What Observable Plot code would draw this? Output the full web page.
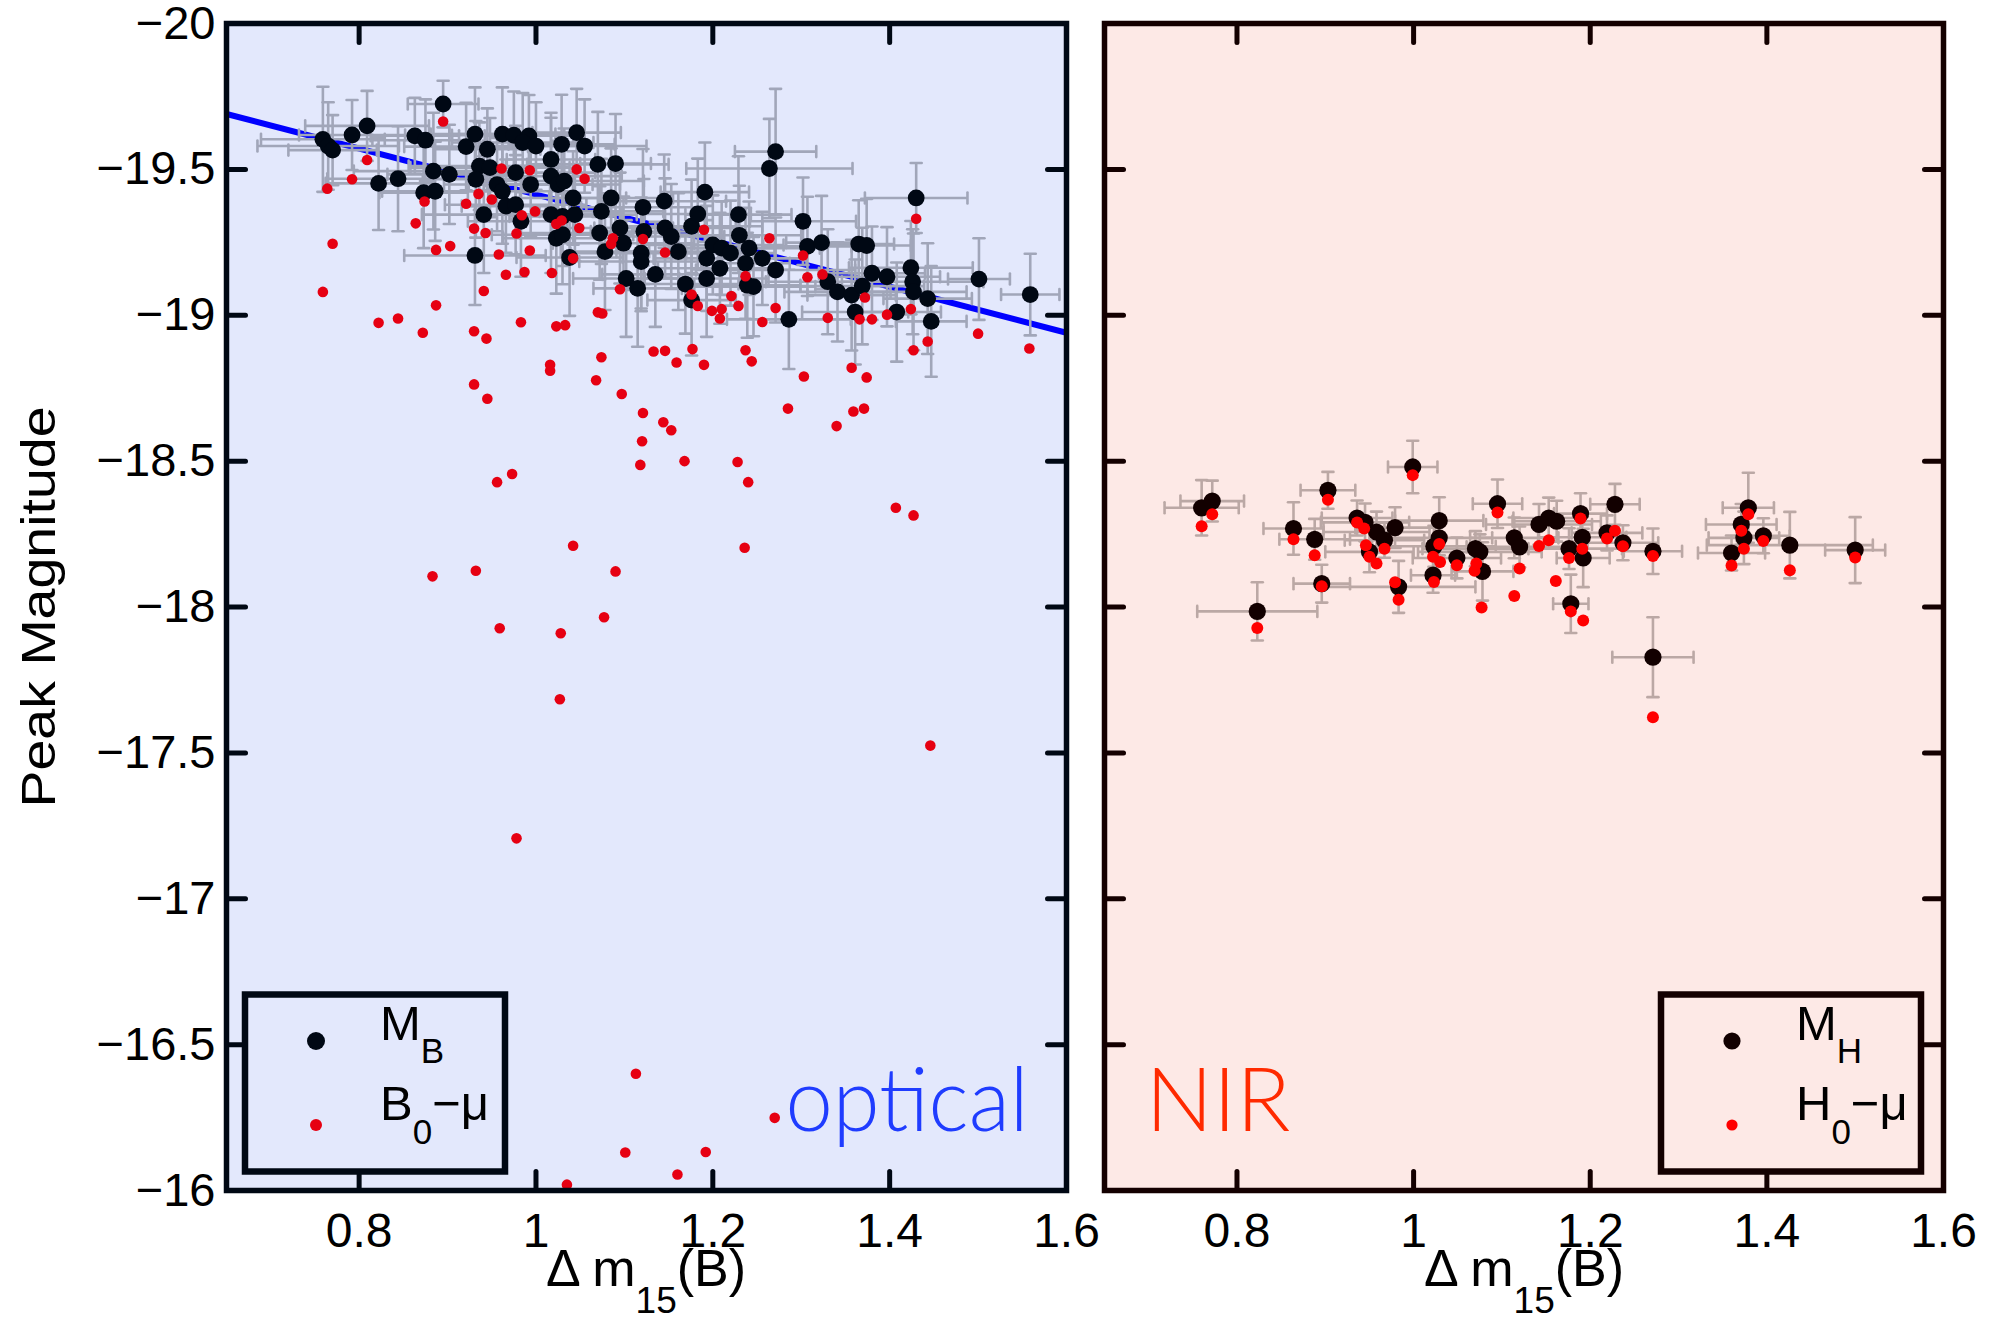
<!DOCTYPE html>
<html><head><meta charset="utf-8">
<script src="https://cdn.jsdelivr.net/npm/d3@7"></script>
<script src="https://cdn.jsdelivr.net/npm/@observablehq/plot@0.6"></script>
<style>
body{margin:0;background:#fff;}
#wrap{position:relative;width:1995px;height:1323px;overflow:hidden;background:#fff;}
.pane{position:absolute;top:0;}
.pane svg{overflow:visible;display:block;}
</style></head><body><div id="wrap"></div>
<script>
// ---------------- data ----------------
const xTicks = [0.8, 1, 1.2, 1.4, 1.6];
const yTicks = [-20, -19.5, -19, -18.5, -18, -17.5, -17, -16.5, -16];
const xDomain = [0.65, 1.6];
const yDomain = [-16, -20];
const fitX = [0.65, 1.6];
const fitY = [-19.69, -18.94];

// optical: [dm15, M_B, xerr, yerr]
const opticalMB = [
[0.759,-19.603,.07,.18],[0.765,-19.580,.08,.15],[0.770,-19.566,.05,.12],[0.792,-19.618,.06,.12],[0.809,-19.649,.07,.12],
[0.822,-19.452,.06,.16],[0.844,-19.468,.08,.18],[0.863,-19.615,.05,.13],[0.875,-19.600,.06,.14],[0.895,-19.724,.04,.08],
[0.921,-19.578,.07,.15],[0.931,-19.621,.05,.16],[0.945,-19.569,.06,.14],[0.884,-19.494,.09,.20],[0.902,-19.483,.07,.17],
[0.873,-19.420,.05,.19],[0.886,-19.425,.06,.17],[0.936,-19.511,.08,.15],[0.932,-19.466,.06,.20],[0.948,-19.506,.09,.17],
[0.956,-19.448,.06,.16],[0.962,-19.425,.08,.18],[0.941,-19.345,.07,.20],[0.966,-19.374,.05,.16],[0.977,-19.379,.08,.17],
[0.983,-19.322,.06,.19],[0.962,-19.621,.06,.16],[0.975,-19.617,.07,.15],[0.992,-19.615,.05,.14],[0.985,-19.592,.08,.17],
[1.000,-19.580,.06,.15],[0.977,-19.489,.09,.16],[0.994,-19.448,.07,.18],[1.017,-19.534,.05,.16],[1.017,-19.477,.08,.20],
[1.029,-19.586,.06,.17],[1.025,-19.448,.07,.15],[1.032,-19.460,.09,.18],[1.042,-19.402,.06,.16],[1.046,-19.626,.05,.15],
[1.055,-19.580,.07,.16],[1.070,-19.517,.08,.18],[1.090,-19.520,.04,.17],[1.017,-19.345,.08,.20],[1.030,-19.339,.06,.17],
[1.044,-19.345,.07,.16],[1.023,-19.264,.06,.19],[1.030,-19.276,.08,.17],[1.038,-19.198,.06,.20],[1.074,-19.356,.07,.18],
[1.072,-19.282,.09,.16],[1.078,-19.218,.05,.20],[1.085,-19.402,.07,.17],[1.095,-19.299,.06,.19],[1.099,-19.247,.08,.16],
[1.102,-19.126,.06,.20],[0.931,-19.205,.08,.17],[1.121,-19.370,.07,.20],[1.122,-19.287,.06,.18],[1.119,-19.213,.08,.19],
[1.119,-19.184,.07,.17],[1.115,-19.092,.05,.20],[1.135,-19.140,.06,.18],[1.145,-19.391,.07,.16],[1.146,-19.299,.08,.17],
[1.153,-19.270,.06,.18],[1.161,-19.218,.07,.20],[1.169,-19.107,.06,.17],[1.176,-19.052,.05,.19],[1.176,-19.305,.08,.16],
[1.183,-19.347,.06,.19],[1.191,-19.422,.05,.17],[1.193,-19.126,.07,.20],[1.193,-19.195,.06,.18],[1.200,-19.241,.08,.17],
[1.208,-19.161,.07,.19],[1.210,-19.230,.06,.16],[1.220,-19.213,.05,.18],[1.229,-19.345,.06,.20],[1.230,-19.274,.07,.17],
[1.237,-19.178,.05,.19],[1.241,-19.230,.08,.16],[1.239,-19.103,.06,.18],[1.246,-19.098,.07,.17],[1.256,-19.195,.05,.16],
[1.271,-19.155,.09,.18],[1.286,-18.986,.07,.17],[1.302,-19.322,.06,.15],[1.307,-19.236,.05,.17],[1.323,-19.249,.04,.16],
[1.330,-19.115,.07,.18],[1.341,-19.080,.06,.17],[1.357,-19.069,.05,.19],[1.361,-19.011,.06,.18],[1.365,-19.244,.04,.15],
[1.374,-19.239,.05,.16],[1.369,-19.100,.07,.20],[1.380,-19.144,.06,.16],[1.397,-19.132,.06,.17],[1.408,-19.011,.05,.17],
[1.424,-19.163,.07,.16],[1.426,-19.115,.08,.18],[1.427,-19.080,.06,.20],[1.443,-19.057,.05,.19],[1.447,-18.979,.04,.19],
[1.430,-19.402,.058,.12],[1.501,-19.124,.035,.14],[1.559,-19.071,.033,.14],[1.271,-19.561,.046,.215],[1.264,-19.503,.094,.17]
];
// optical: [dm15, B0 - mu]
const opticalB0mu = [
[0.895,-19.664],[0.809,-19.532],[0.792,-19.466],[0.764,-19.434],[0.770,-19.245],[0.759,-19.080],[0.874,-19.390],[0.864,-19.315],
[0.921,-19.382],[0.935,-19.416],[0.950,-19.397],[0.961,-19.503],[0.993,-19.497],[0.930,-19.297],[0.943,-19.282],[0.978,-19.280],
[0.984,-19.343],[0.999,-19.356],[1.023,-19.313],[1.029,-19.325],[1.046,-19.500],[1.055,-19.468],[1.049,-19.299],[1.042,-19.195],
[1.087,-19.264],[1.085,-19.244],[1.095,-19.089],[0.887,-19.224],[0.903,-19.237],[0.958,-19.208],[0.966,-19.139],[0.987,-19.148],
[0.993,-19.222],[1.018,-19.145],[0.941,-19.083],[0.887,-19.034],[0.822,-18.974],[0.844,-18.989],[0.983,-18.976],[1.023,-18.962],
[1.033,-18.966],[1.070,-19.010],[1.075,-19.006],[1.121,-19.261],[1.146,-19.215],[1.190,-19.293],[1.176,-19.071],[1.183,-19.032],
[1.199,-19.015],[1.210,-19.021],[1.208,-18.989],[1.221,-19.066],[1.229,-19.032],[1.237,-19.134],[1.256,-18.977],[1.264,-19.264],
[1.271,-19.025],[1.302,-19.205],[1.307,-19.130],[1.324,-19.140],[1.330,-18.991],[1.366,-18.986],[1.380,-18.986],[1.372,-19.061],
[1.397,-19.002],[1.424,-19.021],[1.430,-19.331],[0.872,-18.940],[0.930,-18.945],[0.944,-18.920],[1.016,-18.830],[1.016,-18.810],
[1.074,-18.856],[1.068,-18.777],[1.097,-18.730],[0.930,-18.763],[0.945,-18.714],[1.133,-18.876],[1.146,-18.878],[1.159,-18.838],
[1.177,-18.884],[1.190,-18.830],[1.121,-18.665],[1.144,-18.633],[1.153,-18.606],[1.120,-18.568],[1.118,-18.487],[1.168,-18.500],
[1.228,-18.497],[1.240,-18.428],[1.237,-18.880],[1.244,-18.842],[1.303,-18.790],[1.285,-18.680],[1.340,-18.620],[1.359,-18.670],
[1.371,-18.680],[1.357,-18.820],[1.374,-18.787],[1.427,-18.880],[1.443,-18.910],[1.500,-18.937],[1.558,-18.886],[0.956,-18.428],
[0.973,-18.456],[1.407,-18.340],[1.427,-18.314],[1.042,-18.210],[0.883,-18.105],[0.932,-18.124],[1.090,-18.122],[1.236,-18.203],
[0.959,-17.927],[1.028,-17.910],[1.077,-17.965],[1.027,-17.684],[1.446,-17.525],[0.978,-17.207],[1.113,-16.400],[1.270,-16.249],
[1.101,-16.130],[1.192,-16.132],[1.160,-16.055],[1.035,-16.020]
];
// NIR: [dm15, M_H, xerr, yerr]
const nirMH = [
[0.760,-18.340,.042,.095],[0.772,-18.363,.036,.07],[0.823,-17.985,.068,.10],[0.864,-18.269,.034,.09],[0.888,-18.232,.04,.07],
[0.896,-18.080,.032,.065],[0.903,-18.400,.031,.063],[0.936,-18.305,.04,.06],[0.945,-18.290,.05,.065],[0.950,-18.189,.05,.07],
[0.958,-18.257,.06,.07],[0.967,-18.229,.045,.06],[0.979,-18.272,.045,.07],[0.983,-18.069,.087,.089],[0.999,-18.480,.028,.09],
[1.029,-18.296,.05,.08],[1.029,-18.237,.06,.06],[1.023,-18.208,.07,.07],[1.022,-18.109,.025,.06],[1.049,-18.168,.05,.07],
[1.070,-18.200,.06,.06],[1.075,-18.189,.07,.06],[1.078,-18.122,.035,.10],[1.095,-18.354,.028,.083],[1.114,-18.237,.05,.07],
[1.120,-18.206,.06,.07],[1.142,-18.283,.06,.07],[1.153,-18.305,.04,.07],[1.162,-18.294,.05,.07],[1.176,-18.200,.06,.07],
[1.189,-18.320,.03,.07],[1.191,-18.239,.05,.07],[1.192,-18.168,.03,.10],[1.178,-18.011,.02,.10],[1.228,-18.352,.028,.07],
[1.219,-18.254,.04,.06],[1.237,-18.220,.04,.06],[1.271,-18.191,.033,.078],[1.271,-17.828,.046,.137],[1.360,-18.185,.038,.06],
[1.371,-18.283,.04,.07],[1.374,-18.237,.04,.09],[1.379,-18.340,.029,.12],[1.396,-18.244,.03,.06],[1.426,-18.212,.094,.114],
[1.500,-18.195,.034,.113]
];
// NIR: [dm15, H0 - mu]
const nirH0mu = [
[0.760,-18.277],[0.772,-18.318],[0.823,-17.928],[0.864,-18.232],[0.888,-18.177],[0.896,-18.071],[0.903,-18.368],[0.936,-18.290],
[0.944,-18.269],[0.946,-18.212],[0.950,-18.172],[0.958,-18.149],[0.967,-18.200],[0.979,-18.085],[0.983,-18.025],[0.999,-18.452],
[1.029,-18.216],[1.022,-18.172],[1.030,-18.154],[1.023,-18.086],[1.049,-18.143],[1.071,-18.149],[1.069,-18.124],[1.077,-17.998],
[1.095,-18.324],[1.114,-18.038],[1.120,-18.132],[1.142,-18.209],[1.153,-18.229],[1.161,-18.089],[1.189,-18.303],[1.191,-18.200],
[1.176,-18.168],[1.178,-17.985],[1.192,-17.954],[1.219,-18.235],[1.228,-18.261],[1.237,-18.208],[1.271,-18.175],[1.271,-17.622],
[1.360,-18.142],[1.371,-18.261],[1.374,-18.200],[1.379,-18.318],[1.396,-18.226],[1.426,-18.126],[1.500,-18.170]
];

// ---------------- drawing ----------------
const FONT = "'Liberation Sans', Arial, Helvetica, sans-serif";
const H = 1323;
const tickShape = {draw(ctx, l) { ctx.moveTo(0, 0); ctx.lineTo(0, -l); }};
const fmtY = d => (d < 0 ? "\u2212" : "") + Math.abs(d);

function panel(o) {
  const B = o.black.map(([x, y, xe, ye]) => ({x, y, xe, ye}));
  const R = o.red.map(([x, y]) => ({x, y}));
  const bar = {stroke: o.barColor, strokeWidth: 2.6};
  const cap = {shape: tickShape, anchor: "middle", length: 11, stroke: o.barColor, strokeWidth: 2.6};
  const tk = {shape: tickShape, anchor: "start", length: 19, stroke: o.ink, strokeWidth: 5};
  const marks = [Plot.frame({fill: o.bg, stroke: null})];
  if (o.fit) marks.push(Plot.line(o.fit, {x: "x", y: "y", stroke: "#0000ff", strokeWidth: 6, strokeLinecap: "butt", clip: true}));
  marks.push(
    Plot.ruleY(B, {y: "y", x1: d => d.x - d.xe, x2: d => d.x + d.xe, ...bar}),
    Plot.ruleX(B, {x: "x", y1: d => d.y - d.ye, y2: d => d.y + d.ye, ...bar}),
    Plot.vector(B, {x: d => d.x - d.xe, y: "y", rotate: 0, ...cap}),
    Plot.vector(B, {x: d => d.x + d.xe, y: "y", rotate: 0, ...cap}),
    Plot.vector(B, {x: "x", y: d => d.y - d.ye, rotate: 90, ...cap}),
    Plot.vector(B, {x: "x", y: d => d.y + d.ye, rotate: 90, ...cap}),
    Plot.dot(B, {x: "x", y: "y", r: o.blackR, fill: o.blackColor}),
    Plot.dot(R, {x: "x", y: "y", r: o.redR, fill: o.redColor}),
    Plot.vector(xTicks, {x: d => d, y: () => yDomain[0], rotate: 0, ...tk}),
    Plot.vector(xTicks, {x: d => d, y: () => yDomain[1], rotate: 180, ...tk}),
    Plot.vector(yTicks, {x: () => xDomain[0], y: d => d, rotate: 90, ...tk}),
    Plot.vector(yTicks, {x: () => xDomain[1], y: d => d, rotate: -90, ...tk}),
    Plot.frame({stroke: o.ink, strokeWidth: 5.5}),
    Plot.axisX({anchor: "bottom", ticks: xTicks, tickSize: 0, tickPadding: 22, fontSize: 48, label: null, tickFormat: d => String(d), fill: "#000"}),
    Plot.text([o.word], {frameAnchor: o.wordAnchor, textAnchor: o.wordText, dx: o.wordDx, dy: -60, lineAnchor: "bottom",
      fontSize: 88, fill: o.wordColor, fontFamily: "Lato, 'Open Sans', sans-serif", fontWeight: 300})
  );
  if (o.showY) marks.push(Plot.axisY({anchor: "left", ticks: yTicks, tickSize: 0, tickPadding: 11, fontSize: 47, label: null, tickFormat: fmtY, fill: "#000"}));
  const svg = Plot.plot({
    width: o.width, height: H, marginLeft: o.marginLeft, marginRight: o.marginRight, marginTop: 23, marginBottom: 133,
    x: {domain: xDomain}, y: {domain: yDomain, axis: o.showY ? undefined : null},
    style: {fontFamily: FONT, background: "transparent", overflow: "visible"},
    marks
  });
  d3.select(svg).selectAll("text").filter(function() { return this.textContent === o.word; })
    .attr("textLength", o.wordLen).attr("lengthAdjust", "spacingAndGlyphs");
  const div = document.createElement("div");
  div.className = "pane";
  div.style.left = o.left + "px";
  div.appendChild(svg);
  document.getElementById("wrap").appendChild(div);
}

panel({left: 0, width: 1100, marginLeft: 226, marginRight: 34, bg: "#e3e8fc", ink: "#000814", barColor: "#a1a6b9",
  black: opticalMB, red: opticalB0mu, blackR: 8.4, redR: 5.3, blackColor: "#000814", redColor: "#e60012",
  fit: fitX.map((x, i) => ({x, y: fitY[i]})), showY: true,
  word: "optical", wordColor: "#1f3cff", wordAnchor: "bottom-right", wordText: "end", wordDx: -38, wordLen: 243});
panel({left: 1070, width: 925, marginLeft: 34, marginRight: 52, bg: "#fde9e6", ink: "#140000", barColor: "#bba8a5",
  black: nirMH, red: nirH0mu, blackR: 8.6, redR: 6, blackColor: "#120000", redColor: "#ff0000",
  fit: null, showY: false,
  word: "NIR", wordColor: "#ff2a00", wordAnchor: "bottom-left", wordText: "start", wordDx: 41, wordLen: 145});

// ---------------- titles & legends (overlay) ----------------
const ov = d3.select("#wrap").append("svg").attr("width", 1995).attr("height", H)
  .style("position", "absolute").style("left", 0).style("top", 0).style("pointer-events", "none")
  .style("font-family", FONT);

ov.append("text").attr("transform", "translate(55,607) rotate(-90)").attr("text-anchor", "middle")
  .attr("font-size", 48).attr("textLength", 401).attr("lengthAdjust", "spacingAndGlyphs").text("Peak Magnitude");

function xTitle(cx) {
  const t = ov.append("text").attr("x", cx).attr("y", 1286).attr("text-anchor", "middle").attr("font-size", 52);
  t.append("tspan").text("\u0394 m");
  t.append("tspan").attr("font-size", 37).attr("dy", 27).text("15");
  t.append("tspan").attr("dy", -27).text("(B)");
}
xTitle(646);
xTitle(1524);

function legend(x0, ink, blackColor, redColor, blackR, redR, l1, s1, l2, s2) {
  ov.append("rect").attr("x", x0).attr("y", 994.5).attr("width", 260).attr("height", 177)
    .attr("fill", "none").attr("stroke", ink).attr("stroke-width", 6.5);
  ov.append("circle").attr("cx", x0 + 71).attr("cy", 1041).attr("r", blackR).attr("fill", blackColor);
  ov.append("circle").attr("cx", x0 + 71).attr("cy", 1125).attr("r", redR).attr("fill", redColor);
  const a = ov.append("text").attr("x", x0 + 135).attr("y", 1040).attr("font-size", 49).attr("fill", "#000");
  a.append("tspan").text(l1);
  a.append("tspan").attr("font-size", 35).attr("dy", 23).text(s1);
  const b = ov.append("text").attr("x", x0 + 135).attr("y", 1120).attr("font-size", 49).attr("fill", "#000");
  b.append("tspan").text(l2);
  b.append("tspan").attr("font-size", 35).attr("dy", 24).text(s2);
  b.append("tspan").attr("dy", -24).text("\u2212\u03bc");
}
legend(245, "#000814", "#000814", "#e60012", 9, 6, "M", "B", "B", "0");
legend(1661, "#140000", "#120000", "#ff0000", 8.6, 5.6, "M", "H", "H", "0");
</script></body></html>
